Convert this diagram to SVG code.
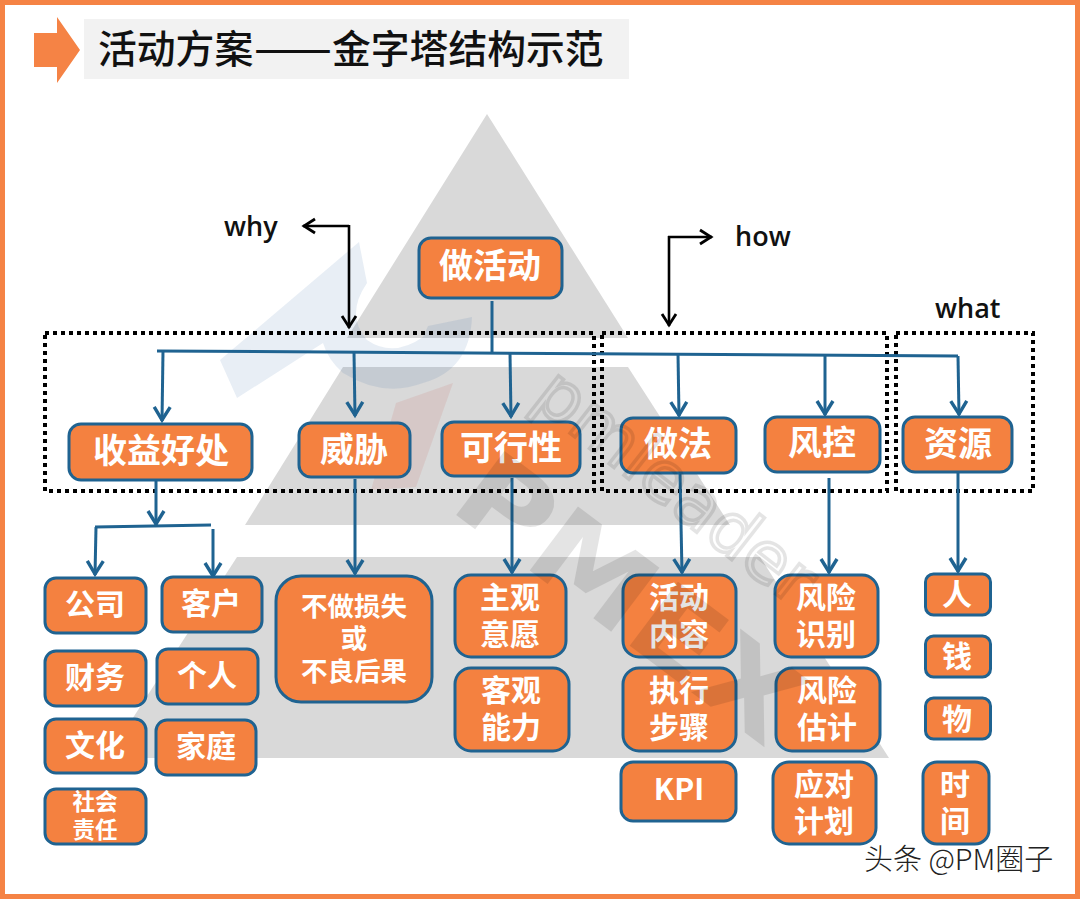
<svg xmlns="http://www.w3.org/2000/svg" width="1080" height="899" viewBox="0 0 1080 899">
<style>
text{font-family:"Noto Sans CJK SC","Noto Sans",sans-serif}
.n{fill:#f48140;stroke:#1f6391;stroke-width:3}
.a{fill:#fff;font-weight:700;text-anchor:middle;font-size:34px}
.b{font-size:30px}
.c{font-size:26.5px}
.d{font-size:22.5px}
.l{fill:none;stroke:#1f6391;stroke-width:3}
.k{fill:none;stroke:#000;stroke-width:2.6}
.dot{fill:none;stroke:#000;stroke-width:4;stroke-dasharray:4 4}
.lab{fill:#111;font-family:"Open Sans",sans-serif;font-size:27px;font-weight:600}
.py{fill:#d9d9d9}
.t{font-size:38.8px;font-weight:500;fill:#111}
</style>
<defs>
<marker id="ah" markerUnits="userSpaceOnUse" markerWidth="22" markerHeight="22" refX="17" refY="10" orient="auto"><path d="M3,2 L16,10 L3,18" fill="none" stroke="#1f6391" stroke-width="3.4"/></marker>
<marker id="bh" markerUnits="userSpaceOnUse" markerWidth="22" markerHeight="22" refX="17" refY="10" orient="auto"><path d="M5,3 L16,10 L5,17" fill="none" stroke="#000" stroke-width="2.8"/></marker>
</defs>
<rect x="0" y="0" width="1080" height="899" fill="#fff"/>
<rect x="2.500" y="2.500" width="1075" height="894" fill="none" stroke="#f58345" stroke-width="5"/>
<g id="pyramid">
<polygon class="py" points="487,114 628,338 347,338"/>
<polygon class="py" points="343,367 628,367 730,525 245,525"/>
<polygon class="py" points="237,557 760,557 889,758 107,758"/>
</g>
<g id="logo">
<path d="M359,242 L367,283 Q345,315 367,340 Q393,358 423,337 L428,326 L472,317 Q470,370 423,383 Q383,398 343,373 Q328,360 323,343 L237,398 L220,360 Z" fill="#1f5a9e" opacity=".1"/>
<polygon points="453,383 396,403 371,490 416,487" fill="#c8504a" opacity=".12"/>
</g>
<g id="title">
<polygon points="34,33 57,33 57,17 80,50 57,83 57,67 34,67" fill="#f58345"/>
<rect x="84" y="19" width="545" height="60" fill="#f2f2f2"/>
<text class="t" x="98" y="63">活动方案</text>
<text class="t" x="254" y="63" textLength="78" lengthAdjust="spacingAndGlyphs">——</text>
<text class="t" x="332" y="63">金字塔结构示范</text>
</g>
<g id="frames">
<rect class="dot" x="45" y="333" width="549" height="158"/>
<rect class="dot" x="602" y="333" width="285" height="158"/>
<rect class="dot" x="896" y="333" width="137" height="158"/>
</g>
<g id="connectors">
<path class="l" d="M492,301 L492,352"/>
<path class="l" d="M157,351 L958,356"/>
<path class="l" d="M163,351 L162,421" marker-end="url(#ah)"/>
<path class="l" d="M354,352 L355,416" marker-end="url(#ah)"/>
<path class="l" d="M510,353 L511,417" marker-end="url(#ah)"/>
<path class="l" d="M678,354 L679,416" marker-end="url(#ah)"/>
<path class="l" d="M825,355 L825,415" marker-end="url(#ah)"/>
<path class="l" d="M958,356 L959,415" marker-end="url(#ah)"/>
<path class="l" d="M156,477 L156,525" marker-end="url(#ah)"/>
<path class="l" d="M95,527 L211,525"/>
<path class="l" d="M96,527 L95,575" marker-end="url(#ah)"/>
<path class="l" d="M213,529 L213,577" marker-end="url(#ah)"/>
<path class="l" d="M355,479 L355,574" marker-end="url(#ah)"/>
<path class="l" d="M512,478 L512,573" marker-end="url(#ah)"/>
<path class="l" d="M680,474 L682,573" marker-end="url(#ah)"/>
<path class="l" d="M829,478 L829,573" marker-end="url(#ah)"/>
<path class="l" d="M958,473 L958,572" marker-end="url(#ah)"/>
<path class="k" d="M349,226 L303,226" marker-end="url(#bh)"/>
<path class="k" d="M349,225 L349,328" marker-end="url(#bh)"/>
<path class="k" d="M668,237 L712,237" marker-end="url(#bh)"/>
<path class="k" d="M669,236 L669,326" marker-end="url(#bh)"/>
</g>
<text class="lab" x="224" y="236">why</text>
<text class="lab" x="735" y="246">how</text>
<text class="lab" x="935" y="318">what</text>
<g id="n-root"><rect class="n" x="419" y="238" width="143" height="60" rx="12"/><text class="a" x="490" y="278">做活动</text></g>
<g id="n-benefit"><rect class="n" x="69" y="424" width="183" height="56" rx="12"/><text class="a" x="161" y="463">收益好处</text></g>
<g id="n-threat"><rect class="n" x="299" y="423" width="111" height="54" rx="12"/><text class="a" x="354" y="462">威胁</text></g>
<g id="n-feasible"><rect class="n" x="442" y="422" width="138" height="54" rx="12"/><text class="a" x="511" y="460">可行性</text></g>
<g id="n-method"><rect class="n" x="621" y="418" width="115" height="55" rx="12"/><text class="a" x="678" y="456">做法</text></g>
<g id="n-risk"><rect class="n" x="765" y="417" width="115" height="55" rx="12"/><text class="a" x="822" y="455">风控</text></g>
<g id="n-resource"><rect class="n" x="903" y="417" width="109" height="55" rx="12"/><text class="a" x="958" y="456">资源</text></g>
<g id="n-company"><rect class="n" x="45" y="578" width="101" height="55" rx="11"/><text class="a b" x="95" y="615">公司</text></g>
<g id="n-customer"><rect class="n" x="162" y="577" width="100" height="55" rx="11"/><text class="a b" x="211" y="614">客户</text></g>
<g id="n-finance"><rect class="n" x="45" y="651" width="101" height="55" rx="11"/><text class="a b" x="95" y="688">财务</text></g>
<g id="n-person"><rect class="n" x="157" y="649" width="101" height="55" rx="11"/><text class="a b" x="207" y="686">个人</text></g>
<g id="n-culture"><rect class="n" x="45" y="719" width="101" height="54" rx="11"/><text class="a b" x="95" y="756">文化</text></g>
<g id="n-family"><rect class="n" x="156" y="720" width="100" height="55" rx="11"/><text class="a b" x="206" y="757">家庭</text></g>
<g id="n-social"><rect class="n" x="45" y="789" width="101" height="55" rx="11"/><text class="a d" x="95" y="810">社会</text><text class="a d" x="95" y="838">责任</text></g>
<g id="n-loss"><rect class="n" x="276" y="576" width="156" height="126" rx="25"/><text class="a c" x="354" y="616">不做损失</text><text class="a c" x="354" y="648">或</text><text class="a c" x="354" y="681">不良后果</text></g>
<g id="n-will"><rect class="n" x="455" y="575" width="111" height="82" rx="16"/><text class="a b" x="510" y="608">主观</text><text class="a b" x="510" y="645">意愿</text></g>
<g id="n-ability"><rect class="n" x="455" y="668" width="114" height="83" rx="16"/><text class="a b" x="511" y="701">客观</text><text class="a b" x="511" y="738">能力</text></g>
<g id="n-content"><rect class="n" x="623" y="575" width="113" height="82" rx="16"/><text class="a b" x="679" y="608">活动</text><text class="a b" x="679" y="645">内容</text></g>
<g id="n-steps"><rect class="n" x="623" y="668" width="113" height="83" rx="16"/><text class="a b" x="679" y="701">执行</text><text class="a b" x="679" y="738">步骤</text></g>
<g id="n-kpi"><rect class="n" x="621" y="762" width="115" height="59" rx="12"/><text class="a b" x="679" y="800">KPI</text></g>
<g id="n-identify"><rect class="n" x="775" y="575" width="103" height="82" rx="16"/><text class="a b" x="826" y="608">风险</text><text class="a b" x="826" y="645">识别</text></g>
<g id="n-estimate"><rect class="n" x="776" y="668" width="104" height="83" rx="16"/><text class="a b" x="827" y="701">风险</text><text class="a b" x="827" y="738">估计</text></g>
<g id="n-plan"><rect class="n" x="773" y="762" width="103" height="82" rx="16"/><text class="a b" x="824" y="795">应对</text><text class="a b" x="824" y="832">计划</text></g>
<g id="n-people"><rect class="n" x="925.500" y="574" width="65" height="41" rx="8"/><text class="a b" x="957" y="605">人</text></g>
<g id="n-money"><rect class="n" x="925.500" y="636" width="65" height="41" rx="8"/><text class="a b" x="957" y="667">钱</text></g>
<g id="n-goods"><rect class="n" x="925.500" y="698" width="65" height="41" rx="8"/><text class="a b" x="957" y="730">物</text></g>
<g id="n-time"><rect class="n" x="923" y="762" width="66" height="82" rx="14"/><text class="a b" x="955" y="795">时</text><text class="a b" x="955" y="832">间</text></g>
<g id="watermark">
<text transform="translate(447,508) rotate(37)" font-size="110" font-weight="700" fill="#000" opacity=".1" textLength="400" lengthAdjust="spacingAndGlyphs" style="font-family:'DejaVu Sans',sans-serif">PMEX</text>
<text transform="translate(530,402) rotate(38)" font-size="70" font-weight="400" fill="none" stroke="#000" stroke-width="3.500" opacity=".1" style="font-family:'DejaVu Sans',sans-serif">pmleader</text>
</g>
<text x="864" y="870" font-size="29" font-weight="300" fill="#222">头条 @PM圈子</text>
</svg>
